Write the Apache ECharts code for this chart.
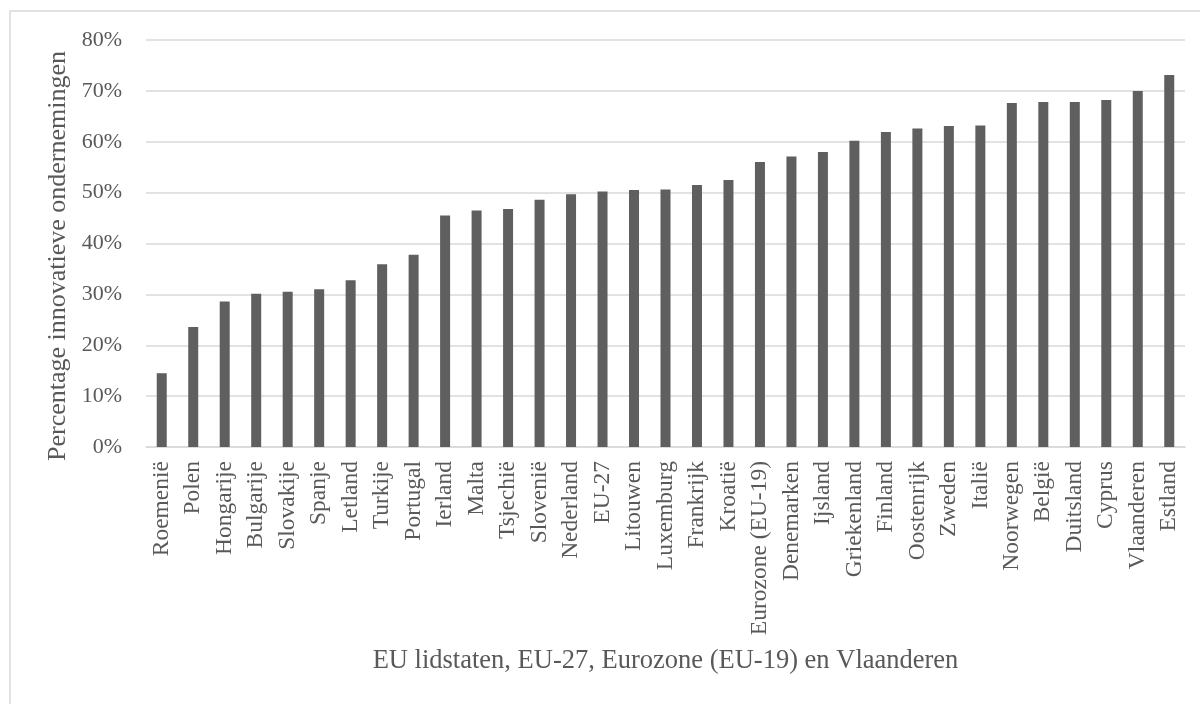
<!DOCTYPE html>
<html>
<head>
<meta charset="utf-8">
<script src="https://cdn.jsdelivr.net/npm/echarts@6/dist/echarts.min.js"></script>
<style>
html,body{margin:0;padding:0;background:#fff;}
#chart{width:1200px;height:704px;}
</style>
</head>
<body>
<div id="chart"></div>
<script>
const categories = ["Roemenië","Polen","Hongarije","Bulgarije","Slovakije","Spanje","Letland","Turkije","Portugal","Ierland","Malta","Tsjechië","Slovenië","Nederland","EU-27","Litouwen","Luxemburg","Frankrijk","Kroatië","Eurozone (EU-19)","Denemarken","Ijsland","Griekenland","Finland","Oostenrijk","Zweden","Italië","Noorwegen","België","Duitsland","Cyprus","Vlaanderen","Estland"];
const values = [14.5,23.6,28.6,30.1,30.5,31.0,32.8,35.9,37.8,45.5,46.5,46.8,48.6,49.7,50.2,50.5,50.6,51.5,52.5,56.0,57.1,58.0,60.2,61.9,62.6,63.1,63.2,67.6,67.8,67.8,68.2,70.0,73.1];
const yTicks = [0,10,20,30,40,50,60,70,80];
const xTitle = "EU lidstaten, EU-27, Eurozone (EU-19) en Vlaanderen";
const yTitle = "Percentage innovatieve ondernemingen";

const font = "'Liberation Serif', 'Times New Roman', serif";
const chart = echarts.init(document.getElementById('chart'));
chart.setOption({
  animation: false,
  backgroundColor: '#ffffff',
  graphic: [{
    type: 'rect',
    shape: {x: 10, y: 11, width: 1300, height: 800},
    style: {fill: 'none', stroke: '#d9d9d9', lineWidth: 1.5},
    silent: true
  }],
  grid: {left: 146, right: 15, top: 40, bottom: 257, containLabel: false},
  xAxis: {
    type: 'category',
    data: categories,
    axisLine: {show: true, lineStyle: {color: '#d9d9d9', width: 1.5}},
    axisTick: {show: false},
    axisLabel: {rotate: 90, interval: 0, margin: 14, color: '#595959', fontFamily: font, fontSize: 23.5},
    name: xTitle,
    nameLocation: 'middle',
    nameGap: 201,
    nameTextStyle: {color: '#595959', fontFamily: font, fontSize: 26.5}
  },
  yAxis: {
    type: 'value',
    min: 0, max: 80, interval: 10,
    axisLine: {show: false},
    axisTick: {show: false},
    splitLine: {lineStyle: {color: '#d9d9d9', width: 1.5}},
    axisLabel: {margin: 24, color: '#595959', fontFamily: font, fontSize: 22,
      formatter: v => yTicks.includes(v) ? v + '%' : ''},
    name: yTitle,
    nameLocation: 'middle',
    nameGap: 72,
    nameTextStyle: {color: '#595959', fontFamily: font, fontSize: 26, padding: [0, 25, 0, 0]}
  },
  series: [{
    type: 'bar',
    data: values,
    barWidth: 10,
    itemStyle: {color: '#5f5f5f'}
  }]
});
</script>
</body>
</html>
